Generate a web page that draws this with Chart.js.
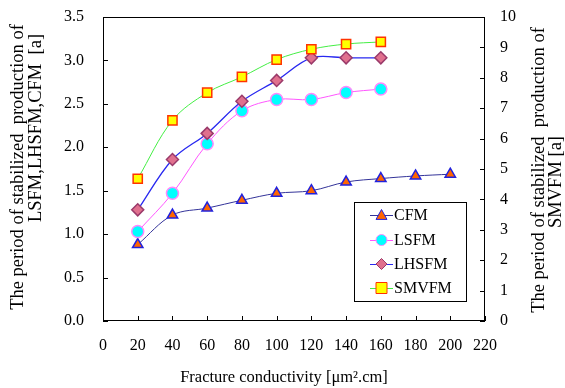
<!DOCTYPE html>
<html>
<head>
<meta charset="utf-8">
<script src="https://cdn.jsdelivr.net/npm/chart.js@4.4.1/dist/chart.umd.min.js"></script>
<style>
  html, body { margin: 0; padding: 0; background: #fff; }
  #wrap { width: 565px; height: 388px; }
</style>
</head>
<body>
<div id="wrap"><canvas id="fracChart"></canvas></div>
<script>
// fracture conductivity values [um2.cm]
var conductivity = [20, 40, 60, 80, 100, 120, 140, 160, 180, 200];
// period of stabilized production [a]
var cfm   = [0.88, 1.22, 1.30, 1.39, 1.47, 1.50, 1.60, 1.64, 1.67, 1.69];
var lsfm  = [1.03, 1.47, 2.04, 2.42, 2.55, 2.55, 2.63, 2.67];
var lhsfm = [1.28, 1.86, 2.16, 2.53, 2.77, 3.03, 3.03, 3.03];
var smvfm = [4.68, 6.60, 7.51, 8.03, 8.60, 8.94, 9.11, 9.18]; // right axis
var seriesNames = ['CFM', 'LSFM', 'LHSFM', 'SMVFM'];

var serif = '"Liberation Serif", "Times New Roman", serif';

function pts(vals) {
    return vals.map(function(v, i) { return { x: conductivity[i], y: v }; });
}

var styles = [
    { line: '#333399', fill: '#FF6600', edge: '#2222DD', shape: 'triangle' },
    { line: '#FF55FF', fill: '#00FFFF', edge: '#FF88FF', shape: 'circle' },
    { line: '#2828F0', fill: '#E0708E', edge: '#9A3A6A', shape: 'rectRot' },
    { line: '#44EE44', fill: '#FFFF00', edge: '#FF3300', shape: 'rect' }
];

function markPath(c, shape, x, y, r) {
    c.beginPath();
    if (shape === 'triangle') {
        c.moveTo(x, y - r);
        c.lineTo(x + r, y + r * 0.8);
        c.lineTo(x - r, y + r * 0.8);
        c.closePath();
    } else if (shape === 'circle') {
        c.arc(x, y, r, 0, Math.PI * 2);
    } else if (shape === 'rectRot') {
        c.moveTo(x, y - r);
        c.lineTo(x + r, y);
        c.lineTo(x, y + r);
        c.lineTo(x - r, y);
        c.closePath();
    } else {
        c.rect(x - r, y - r, r * 2, r * 2);
    }
}

function vText(c, txt, x, y) {
    c.save(); c.translate(x, y); c.rotate(-Math.PI / 2);
    c.fillText(txt, 0, 0);
    c.restore();
}

// frame, inward ticks, axis titles and legend box
var decor = {
    id: 'decor',
    beforeDatasetsDraw: function(chart) {
        var c = chart.ctx, a = chart.chartArea;
        c.save();
        c.strokeStyle = '#000';
        c.lineWidth = 1;
        c.strokeRect(a.left + 0.5, a.top + 0.5, a.right - a.left - 1, a.bottom - a.top - 1);
        c.beginPath();
        chart.scales.x.ticks.forEach(function(t) {
            var px = Math.round(chart.scales.x.getPixelForValue(t.value)) + 0.5;
            c.moveTo(px, a.bottom); c.lineTo(px, a.bottom - 5);
        });
        chart.scales.y.ticks.forEach(function(t) {
            var py = Math.round(chart.scales.y.getPixelForValue(t.value)) + 0.5;
            c.moveTo(a.left, py); c.lineTo(a.left + 5, py);
        });
        chart.scales.y1.ticks.forEach(function(t) {
            var py = Math.round(chart.scales.y1.getPixelForValue(t.value)) + 0.5;
            c.moveTo(a.right, py); c.lineTo(a.right - 5, py);
        });
        c.stroke();
        c.restore();
    },
    afterDraw: function(chart) {
        var c = chart.ctx;
        c.save();
        c.fillStyle = '#000';
        c.textAlign = 'center';
        c.textBaseline = 'middle';

        c.font = '18.5px ' + serif;
        vText(c, 'The period of stabilized  production of', 18, 167);
        vText(c, 'LSFM,LHSFM,CFM  [a]', 36, 128);
        vText(c, 'The period of stabilized  production of', 539, 170);
        vText(c, 'SMVFM [a]', 556, 182);

        c.font = '16.5px ' + serif;
        c.fillText('Fracture conductivity [\u03bcm\u00b2.cm]', 284, 378);

        // legend box
        c.strokeStyle = '#000';
        c.lineWidth = 1;
        c.strokeRect(354.5, 202.5, 112, 99);
        var rows = [215, 240, 264, 288];
        c.font = '16px ' + serif;
        c.textAlign = 'left';
        for (var i = 0; i < seriesNames.length; i++) {
            var s = styles[i];
            var yy = rows[i];
            c.fillStyle = '#000';
            c.fillText(seriesNames[i], 394, yy + 1);
            c.lineWidth = 1;
            c.strokeStyle = s.line;
            c.beginPath();
            c.moveTo(370, yy + 0.5);
            c.lineTo(393, yy + 0.5);
            c.stroke();
            markPath(c, s.shape, 381.5, yy, 5.5);
            c.fillStyle = s.fill;
            c.fill();
            c.strokeStyle = s.edge;
            c.stroke();
        }
        c.restore();
    }
};

function makeSet(i, vals, axis) {
    var s = styles[i];
    return {
        label: seriesNames[i],
        data: pts(vals),
        yAxisID: axis,
        borderColor: s.line,
        borderWidth: i === 2 ? 1.3 : 1,
        backgroundColor: s.fill,
        pointBackgroundColor: s.fill,
        pointBorderColor: s.edge,
        pointBorderWidth: 1.5,
        pointStyle: s.shape,
        pointRadius: s.shape === 'rect' ? 6.5 : 6,
        tension: 0.35,
        fill: false
    };
}

var ctx = document.getElementById('fracChart').getContext('2d');
var myChart = new Chart(ctx, {
    type: 'line',
    data: {
        datasets: [
            makeSet(3, smvfm, 'y1'),
            makeSet(2, lhsfm, 'y'),
            makeSet(1, lsfm, 'y'),
            makeSet(0, cfm, 'y')
        ]
    },
    options: {
        responsive: true,
        maintainAspectRatio: false,
        animation: false,
        layout: { padding: { top: 17, left: 0, right: 0, bottom: 0 } },
        plugins: {
            legend: { display: false },
            tooltip: { enabled: false }
        },
        scales: {
            x: {
                type: 'linear',
                min: 0, max: 220,
                grid: { display: false, tickLength: 15 },
                border: { display: false },
                ticks: { stepSize: 20, color: '#000', padding: 0, maxRotation: 0,
                         font: { family: serif, size: 16 } },
                afterFit: function(s) { s.height = 67; }
            },
            y: {
                position: 'left',
                min: 0, max: 3.5,
                grid: { display: false, tickLength: 19 },
                border: { display: false },
                ticks: { stepSize: 0.5, color: '#000', padding: 0,
                         font: { family: serif, size: 16 },
                         callback: function(v) { return v.toFixed(1); } },
                afterFit: function(s) { s.width = 103; }
            },
            y1: {
                position: 'right',
                min: 0, max: 10,
                grid: { display: false, tickLength: 15 },
                border: { display: false },
                ticks: { stepSize: 1, color: '#000', padding: 0,
                         font: { family: serif, size: 16 } },
                afterFit: function(s) { s.width = 80; }
            }
        }
    },
    plugins: [decor]
});
</script>
</body>
</html>
